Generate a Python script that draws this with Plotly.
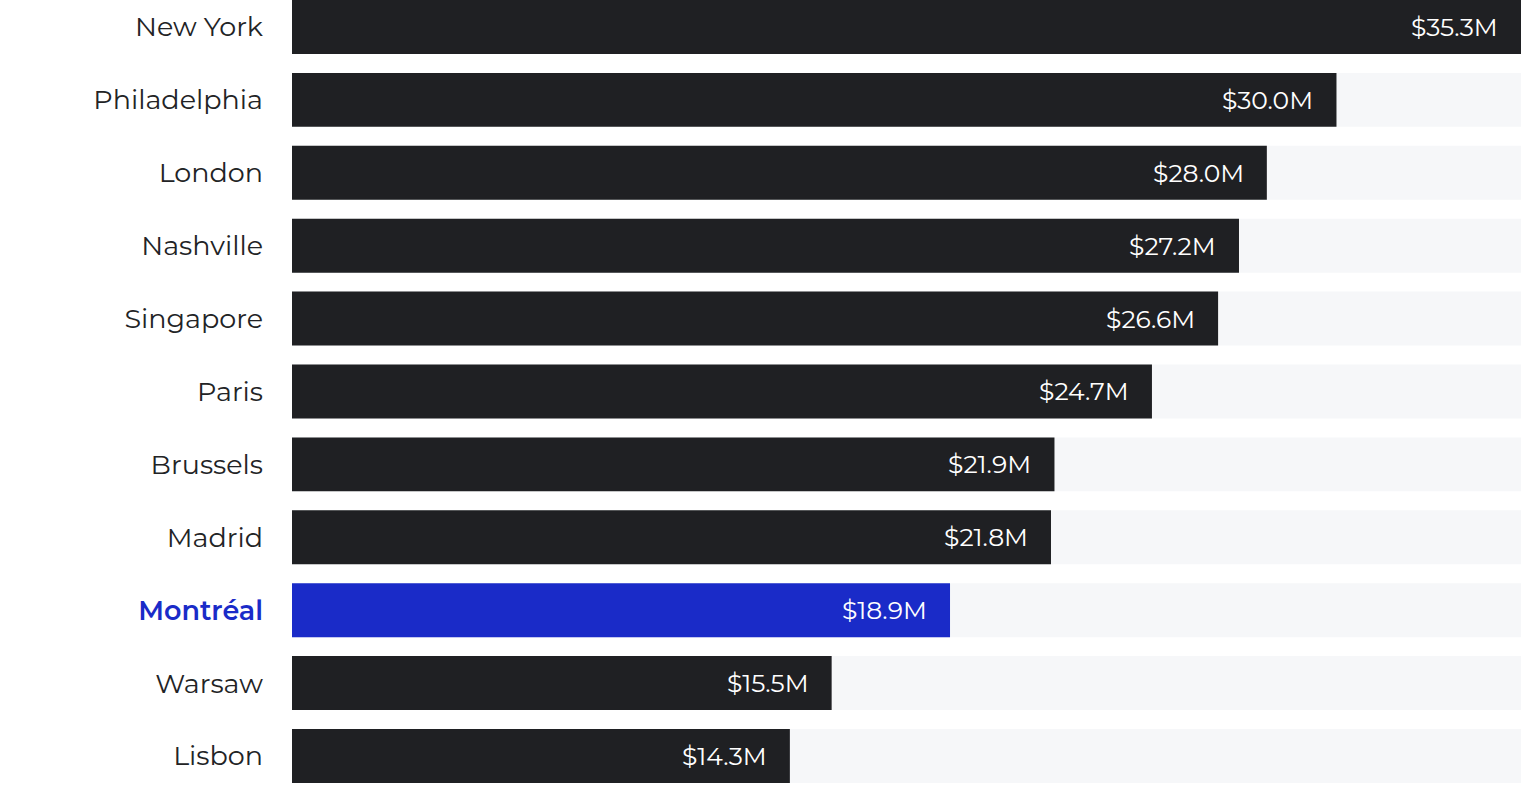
import plotly.graph_objects as go

cities = ["New York", "Philadelphia", "London", "Nashville", "Singapore", "Paris",
          "Brussels", "Madrid", "Montréal", "Warsaw", "Lisbon"]
values = [35.3, 30.0, 28.0, 27.2, 26.6, 24.7, 21.9, 21.8, 18.9, 15.5, 14.3]
highlight = "Montréal"

DARK = "#1f2023"
BLUE = "#1a2bc8"
TRACK = "#f6f7f9"
FONT = "Montserrat, DejaVu Sans, sans-serif"

max_val = max(values)
bar_colors = [BLUE if c == highlight else DARK for c in cities]
tick_text = [f"<span style='color:{BLUE};font-weight:600'>{c}</span>" if c == highlight else c
             for c in cities]

fig = go.Figure()

# grey background tracks, full length
fig.add_trace(go.Bar(
    y=cities, x=[max_val] * len(cities), orientation="h",
    marker=dict(color=TRACK, line=dict(width=0)),
    width=0.74, hoverinfo="skip", showlegend=False,
))

fig.add_trace(go.Bar(
    y=cities, x=values, orientation="h",
    marker=dict(color=bar_colors, line=dict(width=0)),
    width=0.74, showlegend=False,
))

# value labels inside bar ends
for c, v in zip(cities, values):
    fig.add_annotation(
        x=v, y=c, text=f"${v:.1f}M", showarrow=False,
        xanchor="right", xshift=-21,
        font=dict(family=FONT, size=25, color="white"),
    )

fig.update_layout(
    width=1521, height=797,
    margin=dict(l=292, r=0, t=0, b=0),
    barmode="overlay",
    plot_bgcolor="white", paper_bgcolor="white",
    xaxis=dict(range=[0, max_val], visible=False, fixedrange=True),
    yaxis=dict(
        categoryorder="array", categoryarray=cities,
        tickmode="array", tickvals=cities, ticktext=tick_text,
        range=[10.563, -0.370],
        showgrid=False, zeroline=False, showline=False, ticks="",
        ticklabelstandoff=28,
        tickfont=dict(family=FONT, size=27, color="#222325"),
    ),
)

# page body margin off so the chart sits at the window corner
fig.write_html("out.html", config={"displayModeBar": False},
               post_script="document.body.style.margin='0';")
